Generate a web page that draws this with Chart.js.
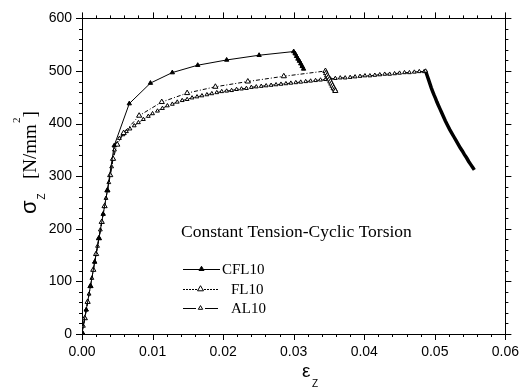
<!DOCTYPE html>
<html>
<head>
<meta charset="utf-8">
<script src="https://cdn.jsdelivr.net/npm/chart.js@4.4.1/dist/chart.umd.min.js"></script>
<style>
html,body{margin:0;padding:0;background:#fff;}
#wrap{width:529px;height:388px;}
</style>
</head>
<body>
<div id="wrap"><canvas id="c" width="529" height="388"></canvas></div>
<script>
// ---- data ----
const cfl10Strain = [0, 0.0006, 0.0012, 0.0018, 0.0024, 0.0030, 0.0036, 0.00456, 0.0067, 0.0097, 0.0128, 0.0164, 0.0205, 0.0251, 0.0300,
  0.0302, 0.0304, 0.0306, 0.0308, 0.0310, 0.0312, 0.0314];
const cfl10Stress = [3, 46, 91, 137, 182, 228, 273, 358, 438, 477, 497, 511, 521, 530, 537,
  533, 528, 523, 519, 514, 509, 504];

const fl10Strain = [0, 0.0004, 0.0008, 0.0012, 0.0016, 0.0020, 0.0024, 0.0028, 0.0032, 0.0036, 0.0040, 0.0044, 0.0050, 0.0059,
  0.0081, 0.0113, 0.0149, 0.0189, 0.0235, 0.0286, 0.0345,
  0.03460, 0.03475, 0.0349, 0.03505, 0.0352, 0.03535, 0.0355, 0.03565, 0.0358, 0.0359];
const fl10Stress = [3, 30, 61, 91, 122, 152, 182, 213, 243, 273, 302, 333, 360, 382,
  415, 441, 458, 470, 480, 490, 500,
  496, 492, 488, 484, 480, 476, 472, 468, 465, 462];

const al10Strain = [0.0000, 0.0002, 0.0004, 0.0006, 0.0008, 0.0010, 0.0012, 0.0014, 0.0016, 0.0018, 0.0020, 0.0022, 0.0024,
  0.0026, 0.0028, 0.0030, 0.0032, 0.0034, 0.0036, 0.0038, 0.0040,
  0.0042, 0.0044, 0.0046, 0.0049, 0.0053, 0.0058, 0.0063, 0.0068, 0.0074, 0.0080, 0.0087, 0.0094,
  0.0100, 0.0107, 0.0114, 0.0121, 0.0128, 0.0135, 0.0142, 0.0149, 0.0156, 0.0163, 0.0170, 0.0177, 0.0184, 0.0191,
  0.0198, 0.0205, 0.0212, 0.0219, 0.0226, 0.0233, 0.0240, 0.0247, 0.0254, 0.0261, 0.0268, 0.0275, 0.0282, 0.0289,
  0.0296, 0.0303, 0.0310, 0.0317, 0.0324, 0.0331, 0.0338, 0.0345, 0.0352, 0.0359, 0.0366, 0.0373, 0.0380, 0.0387,
  0.0394, 0.0401, 0.0408, 0.0415, 0.0422, 0.0429, 0.0436, 0.0443, 0.0450, 0.0457, 0.0464, 0.0471, 0.0478, 0.0485, 0.0487,
  0.0489, 0.0491, 0.0493, 0.0495, 0.0497, 0.0499, 0.0501, 0.0503, 0.0505, 0.0507, 0.0509, 0.0512, 0.0515, 0.0518,
  0.0521, 0.0524, 0.0527, 0.0530, 0.0533, 0.0536, 0.0539, 0.0542, 0.0545, 0.0548, 0.0551, 0.0554, 0.0556];
const al10Stress = [3, 15, 30, 46, 61, 76, 91, 106, 122, 137, 152, 167, 182,
  198, 213, 228, 243, 258, 273, 288, 302,
  318, 333, 350, 361, 372, 379, 385, 390, 396, 402, 408, 414,
  419, 424, 429, 434, 437, 441, 444, 446, 449, 451, 453, 455, 457, 459,
  461, 462, 463, 465, 466, 467, 469, 470, 471, 472, 473, 474, 475, 476,
  477, 478, 479, 480, 481, 482, 483, 484, 485, 486, 487, 487, 488, 489,
  490, 491, 491, 492, 493, 494, 494, 495, 496, 497, 497, 498, 499, 499, 500,
  492, 484, 476, 468, 461, 454, 448, 441, 435, 429, 423, 414, 405, 397,
  389, 382, 375, 368, 361, 354, 348, 341, 335, 328, 322, 316, 312];

const xTickMin = 0, xTickMax = 0.06, xTickStep = 0.01;
const yTickMin = 0, yTickMax = 600, yTickStep = 100;

const seriesNames = ['CFL10', 'FL10', 'AL10'];
const chartTitle = 'Constant Tension-Cyclic Torsion';

function pts(xs, ys){ return xs.map((x,i)=>({x:x, y:ys[i]})); }
function peakIdx(ys){ let m=0; ys.forEach((v,i)=>{ if(v>ys[m]) m=i; }); return m; }

function makeSet(label, xs, ys, dash, radius, fill, dropWidth, dropRadius){
  const pk = peakIdx(ys);
  return {
    label: label,
    data: pts(xs, ys),
    showLine: true,
    borderColor: '#000',
    borderWidth: 1,
    borderDash: dash,
    pointStyle: 'triangle',
    pointRadius: xs.map((v,i)=> i > pk ? dropRadius : radius),
    legendRadius: radius,
    pointBorderWidth: 1,
    pointBackgroundColor: fill,
    pointBorderColor: '#000',
    segment: {
      borderWidth: c => c.p0DataIndex >= pk ? dropWidth : 1,
      borderDash: c => c.p0DataIndex >= pk ? [] : dash
    }
  };
}

const datasets = [
  makeSet(seriesNames[0], cfl10Strain, cfl10Stress, [], 2.5, '#000', 3, 2.5),
  makeSet(seriesNames[1], fl10Strain, fl10Stress, [4,2,1,2], 3, '#fff', 2, 3),
  makeSet(seriesNames[2], al10Strain, al10Stress, [6,3], 2.2, '#fff', 3.5, 0)
];

const LEFT = 82, RIGHT = 17, TOP = 16, BOTTOM = 54;

const decorPlugin = {
  id: 'decor',
  afterDraw(chart){
    const ctx = chart.ctx, a = chart.chartArea;
    const xs = chart.scales.x, ys = chart.scales.y;
    ctx.save();
    ctx.strokeStyle = '#000'; ctx.lineWidth = 1;
    ctx.beginPath();
    // minor/major ticks, outward, on four sides
    for(let i=0;i<=30;i++){
      const px = Math.round(xs.getPixelForValue(i*0.002)) + 0.5;
      const len = (i%5===0) ? 6 : 3;
      ctx.moveTo(px, a.bottom); ctx.lineTo(px, a.bottom+len);
      ctx.moveTo(px, a.top); ctx.lineTo(px, a.top-len);
    }
    for(let i=0;i<=30;i++){
      const py = Math.round(ys.getPixelForValue(i*20)) + 0.5;
      const len = (i%5===0) ? 6 : 3;
      ctx.moveTo(a.left, py); ctx.lineTo(a.left-len, py);
      ctx.moveTo(a.right, py); ctx.lineTo(a.right+len, py);
    }
    ctx.stroke();

    // title inside plot
    ctx.fillStyle = '#000';
    ctx.textBaseline = 'middle'; ctx.textAlign = 'left';
    ctx.font = "17.5px 'Liberation Serif'";
    ctx.fillText(chartTitle, 181, 232);

    // legend
    const rows = [
      {y:269, tx:222, segs:[[183,220]]},
      {y:289, tx:231, segs:[[183,218]]},
      {y:308, tx:231, segs:[[183,196],[205,218]]}
    ];
    const dashes = [[], [2,1], []];
    rows.forEach((r,i)=>{
      const ds = chart.data.datasets[i];
      ctx.setLineDash(dashes[i]);
      ctx.beginPath();
      r.segs.forEach(s=>{ ctx.moveTo(s[0], r.y+0.5); ctx.lineTo(s[1], r.y+0.5); });
      ctx.stroke();
      ctx.setLineDash([]);
      const mx = (r.segs[0][0] + r.segs[r.segs.length-1][1])/2, rad = ds.legendRadius;
      ctx.beginPath();
      ctx.moveTo(mx, r.y - rad*1.1);
      ctx.lineTo(mx + rad, r.y + rad*0.6);
      ctx.lineTo(mx - rad, r.y + rad*0.6);
      ctx.closePath();
      ctx.fillStyle = ds.pointBackgroundColor; ctx.fill(); ctx.stroke();
      ctx.fillStyle = '#000';
      ctx.font = "15px 'Liberation Serif'";
      ctx.fillText(ds.label, r.tx, r.y + 1);
    });

    // y axis title: sigma_Z [N/mm^2]
    ctx.save();
    ctx.translate(36, 214);
    ctx.rotate(-Math.PI/2);
    ctx.textBaseline = 'alphabetic'; ctx.textAlign = 'left';
    ctx.font = "22px 'Liberation Sans'";
    ctx.fillText('σ', 0, 0);
    let p = ctx.measureText('σ').width + 1;
    ctx.font = "10px 'Liberation Sans'";
    ctx.fillText('Z', p, 9);
    ctx.font = "19px 'Liberation Serif'";
    ctx.fillText('[N/mm', 35, 0);
    p = 35 + ctx.measureText('[N/mm').width + 1;
    ctx.font = "11px 'Liberation Serif'";
    ctx.fillText('2', p, -16);
    p += ctx.measureText('2').width;
    ctx.font = "19px 'Liberation Serif'";
    ctx.fillText(']', p, 0);
    ctx.restore();

    // x axis title: epsilon_Z
    ctx.textBaseline = 'alphabetic';
    ctx.font = "19px 'Liberation Sans'";
    ctx.fillText('ε', 302, 377);
    ctx.font = "10px 'Liberation Sans'";
    ctx.fillText('Z', 312, 387);
    ctx.restore();
  }
};

new Chart(document.getElementById('c'), {
  type: 'scatter',
  data: { datasets: datasets },
  options: {
    responsive: false,
    animation: false,
    layout: { padding: 0 },
    plugins: { legend: { display: false }, tooltip: { enabled: false } },
    scales: {
      x: {
        type: 'linear', position: 'bottom', min: xTickMin, max: xTickMax,
        grid: { display: false, drawTicks: false },
        border: { display: true, color: '#000', width: 1 },
        ticks: { stepSize: xTickStep, padding: 10, color: '#000', font: { family: "'Liberation Sans'", size: 14 },
          maxRotation: 0, callback: v => Number(v).toFixed(2) },
        afterFit: s => { s.height = BOTTOM; }
      },
      x2: {
        type: 'linear', position: 'top', min: xTickMin, max: xTickMax,
        grid: { display: false, drawTicks: false },
        border: { display: true, color: '#000', width: 1 },
        ticks: { display: false },
        afterFit: s => { s.height = TOP; }
      },
      y: {
        type: 'linear', position: 'left', min: yTickMin, max: yTickMax,
        grid: { display: false, drawTicks: false },
        border: { display: true, color: '#000', width: 1 },
        ticks: { stepSize: yTickStep, padding: 10, color: '#000', font: { family: "'Liberation Sans'", size: 14 } },
        afterFit: s => { s.width = LEFT; }
      },
      y2: {
        type: 'linear', position: 'right', min: yTickMin, max: yTickMax,
        grid: { display: false, drawTicks: false },
        border: { display: true, color: '#000', width: 1 },
        ticks: { display: false },
        afterFit: s => { s.width = RIGHT; }
      }
    }
  },
  plugins: [decorPlugin]
});
</script>
</body>
</html>
